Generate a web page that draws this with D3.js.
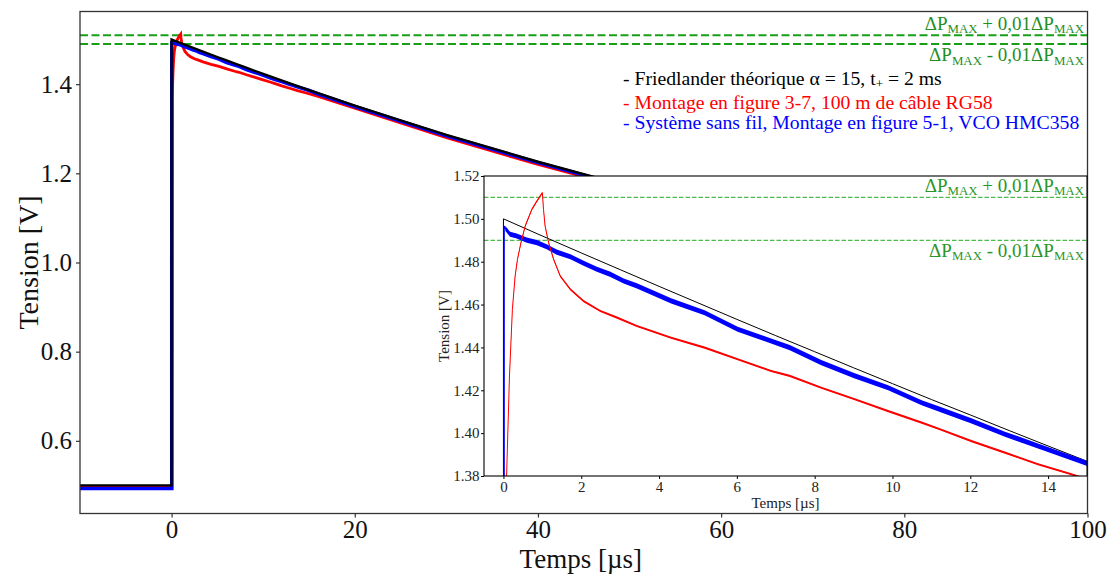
<!DOCTYPE html>
<html><head><meta charset="utf-8">
<script src="https://cdn.jsdelivr.net/npm/d3@7"></script>
<style>
body{margin:0;background:#fff}
svg text{font-family:"Liberation Serif","DejaVu Serif",serif}
</style>
</head><body>
<svg id="c" width="1112" height="575"></svg>
<script>
// ---------- data (time in µs, tension in V) ----------
const friedT = [-10, 0, 0, 1, 2, 3, 4, 5, 6, 7, 8, 9, 10, 11, 12, 13, 14, 15, 16, 20, 25, 30, 40, 50, 60, 70, 80, 90, 100];
const friedV = [0.5, 0.5, 1.5, 1.4920, 1.4841, 1.4763, 1.4685, 1.4608, 1.4531, 1.4455, 1.4380, 1.4305, 1.4231, 1.4157, 1.4085, 1.4012, 1.3940, 1.3869, 1.3798, 1.3521, 1.3187, 1.2865, 1.2260, 1.1701, 1.1185, 1.0709, 1.0269, 0.9862, 0.9488];

const redT = [-10, 0.03, 0.08, 0.155, 0.23, 0.30, 0.36, 0.45, 0.56, 0.73, 0.86, 1.00, 1.03, 1.07, 1.16, 1.29, 1.46, 1.72, 2.06, 2.49, 2.92, 3.43, 4.31, 5.17, 6.02, 6.88, 7.36, 8.17, 9.03, 9.89, 10.75, 11.22, 12.03, 12.89, 13.74, 14.6, 16, 20, 30, 40, 50, 60, 70, 80, 90, 100];
const redV = [0.497, 0.497, 1.380, 1.4267, 1.4578, 1.4733, 1.4811, 1.4889, 1.4967, 1.5044, 1.5083, 1.5122, 1.5044, 1.4967, 1.4889, 1.4811, 1.4733, 1.4671, 1.4616, 1.4570, 1.4539, 1.4500, 1.4445, 1.4399, 1.4345, 1.4290, 1.4267, 1.4212, 1.4158, 1.4103, 1.4049, 1.4018, 1.3963, 1.3909, 1.3855, 1.3808, 1.3725, 1.346, 1.280, 1.220, 1.165, 1.114, 1.066, 1.022, 0.982, 0.945];

const blueT = [-10, 0.02, 0.02, 0.05, 0.17, 0.34, 0.6, 0.86, 1.11, 1.37, 1.72, 2.06, 2.40, 2.75, 3.09, 3.43, 4.31, 5.17, 6.02, 6.88, 7.36, 8.17, 9.03, 9.89, 10.75, 11.22, 12.03, 12.89, 13.74, 14.95, 16, 20, 30, 40, 50, 60, 70, 80, 90, 100];
const blueV = [0.493, 0.493, 1.4967, 1.4955, 1.4928, 1.4920, 1.4901, 1.4889, 1.4870, 1.4845, 1.4823, 1.4793, 1.4765, 1.4741, 1.4710, 1.4687, 1.4617, 1.4562, 1.4485, 1.4430, 1.4399, 1.4329, 1.4267, 1.4212, 1.4142, 1.4111, 1.4057, 1.3995, 1.3940, 1.3862, 1.378, 1.350, 1.284, 1.224, 1.168, 1.117, 1.069, 1.025, 0.985, 0.947];

// noise half-width
const blueSpread = 0.0012;
const redSpread = 0.0005;

const tolerance = [1.51, 1.49];

const mainXTicks = [0, 20, 40, 60, 80, 100];
const mainYTicks = [0.6, 0.8, 1.0, 1.2, 1.4];
const insetXTicks = [0, 2, 4, 6, 8, 10, 12, 14];
const insetYTicks = [1.38, 1.40, 1.42, 1.44, 1.46, 1.48, 1.50, 1.52];

const legendLines = [
  {parts: ["- Friedlander théorique α = 15, t", "+", " = 2 ms"], color: "#000"},
  {parts: ["- Montage en figure 3-7, 100 m de câble RG58"], color: "#ff0000"},
  {parts: ["- Système sans fil, Montage en figure 5-1, VCO HMC358"], color: "#0000ff"}
];

const zip = (t, v) => t.map((d, i) => ({t: d, v: v[i]}));
const fried = zip(friedT, friedV), red = zip(redT, redV), blue = zip(blueT, blueV);

// ---------- main chart ----------
const svg = d3.select("#c");
const M = {l: 80, r: 1087.5, t: 11.5, b: 513.5};
const x = d3.scaleLinear().domain([-10, 100]).range([M.l, M.r]);
const y = d3.scaleLinear().domain([0.437, 1.563]).range([M.b, M.t]);

const defs = svg.append("defs");
defs.append("clipPath").attr("id", "mainClip").append("rect")
  .attr("x", M.l).attr("y", M.t).attr("width", M.r - M.l).attr("height", M.b - M.t);

const mainLine = d3.line().x(d => x(d.t)).y(d => y(d.v));
const gm = svg.append("g").attr("clip-path", "url(#mainClip)");
tolerance.forEach(v => {
  gm.append("line").attr("x1", M.l).attr("x2", M.r).attr("y1", y(v)).attr("y2", y(v))
    .attr("stroke", "#17a017").attr("stroke-width", 2).attr("stroke-dasharray", "8,3.5");
});
gm.append("path").datum(red).attr("d", mainLine).attr("fill", "none").attr("stroke", "#ff0000").attr("stroke-width", 2.8);
gm.append("path").datum(blue).attr("d", mainLine).attr("fill", "none").attr("stroke", "#0000ff").attr("stroke-width", 3.6);
gm.append("path").datum(fried).attr("d", mainLine).attr("fill", "none").attr("stroke", "#000").attr("stroke-width", 2.4);

// axes
const ax = svg.append("g").attr("transform", `translate(0,${M.b})`)
  .call(d3.axisBottom(x).tickValues(mainXTicks).tickFormat(d3.format("d")).tickSize(4).tickPadding(3));
const ay = svg.append("g").attr("transform", `translate(${M.l},0)`)
  .call(d3.axisLeft(y).tickValues(mainYTicks).tickFormat(d3.format(".1f")).tickSize(4).tickPadding(4));
[ax, ay].forEach(g => {
  g.select(".domain").remove();
  g.selectAll("line").attr("stroke", "#333").attr("stroke-width", 1.2);
  g.selectAll("text").attr("font-size", 25).attr("fill", "#111").attr("font-family", "Liberation Serif, DejaVu Serif, serif");
});
svg.append("rect").attr("x", M.l).attr("y", M.t).attr("width", M.r - M.l).attr("height", M.b - M.t)
  .attr("fill", "none").attr("stroke", "#333").attr("stroke-width", 1.3);

svg.append("text").attr("x", (M.l + M.r) / 2 - 3).attr("y", 568).attr("text-anchor", "middle")
  .attr("font-size", 27).attr("fill", "#111").text("Temps [µs]");
svg.append("text").attr("transform", `translate(38,${(M.t + M.b) / 2}) rotate(-90)`).attr("text-anchor", "middle")
  .attr("font-size", 28).attr("fill", "#111").text("Tension [V]");

function pmaxLabel(g, xe, yb, sign, size, color) {
  const t = g.append("text").attr("x", xe).attr("y", yb).attr("text-anchor", "end")
    .attr("font-size", size).attr("fill", color);
  const sub = size * 0.68, shift = size * 0.19;
  t.append("tspan").text("ΔP");
  t.append("tspan").attr("font-size", sub).attr("dy", shift).text("MAX");
  t.append("tspan").attr("dy", -shift).text(` ${sign} 0,01ΔP`);
  t.append("tspan").attr("font-size", sub).attr("dy", shift).text("MAX");
}
pmaxLabel(svg, 1084, 29.5, "+", 19, "#1f8f1f");
pmaxLabel(svg, 1084, 61, "-", 19, "#1f8f1f");

// legend text
const legY = [85, 109, 129];
legendLines.forEach((L, i) => {
  const t = svg.append("text").attr("x", 623).attr("y", legY[i]).attr("font-size", 19.7).attr("fill", L.color);
  if (L.parts.length === 1) t.text(L.parts[0]);
  else {
    t.append("tspan").text(L.parts[0]);
    t.append("tspan").attr("font-size", 13).attr("dy", 3).text(L.parts[1]);
    t.append("tspan").attr("dy", -3).text(L.parts[2]);
  }
});

// ---------- inset ----------
const I = {l: 484, r: 1087, t: 176, b: 476};
const xi = d3.scaleLinear().domain([-0.5, 15]).range([I.l, I.r]);
const yi = d3.scaleLinear().domain([1.38, 1.52]).range([I.b, I.t]);
svg.append("rect").attr("x", I.l).attr("y", I.t).attr("width", I.r - I.l).attr("height", I.b - I.t).attr("fill", "#fff");
defs.append("clipPath").attr("id", "insClip").append("rect")
  .attr("x", I.l).attr("y", I.t).attr("width", I.r - I.l).attr("height", I.b - I.t);
const gi = svg.append("g").attr("clip-path", "url(#insClip)");
tolerance.forEach(v => {
  gi.append("line").attr("x1", I.l).attr("x2", I.r).attr("y1", yi(v)).attr("y2", yi(v))
    .attr("stroke", "#4cbc4c").attr("stroke-width", 1.3).attr("stroke-dasharray", "4.5,2");
});
const insLine = d3.line().x(d => xi(d.t)).y(d => yi(d.v));
const band = s => d3.area().x(d => xi(d.t)).y0(d => yi(d.v - s)).y1(d => yi(d.v + s));
gi.append("path").datum(fried).attr("d", insLine).attr("fill", "none").attr("stroke", "#000").attr("stroke-width", 1);
gi.append("path").datum(blue.filter(d => d.t > 0.03)).attr("d", band(blueSpread)).attr("fill", "#0000ff");
gi.append("path").datum(blue).attr("d", insLine).attr("fill", "none").attr("stroke", "#0000ff").attr("stroke-width", 1.2);
gi.append("path").datum(red.filter(d => d.t > 0.1)).attr("d", band(redSpread)).attr("fill", "#ff0000");
gi.append("path").datum(red).attr("d", insLine).attr("fill", "none").attr("stroke", "#ff0000").attr("stroke-width", 1);

const ixa = svg.append("g").attr("transform", `translate(0,${I.b})`)
  .call(d3.axisBottom(xi).tickValues(insetXTicks).tickFormat(d3.format("d")).tickSize(3).tickPadding(2));
const iya = svg.append("g").attr("transform", `translate(${I.l},0)`)
  .call(d3.axisLeft(yi).tickValues(insetYTicks).tickFormat(d3.format(".2f")).tickSize(3).tickPadding(1.5));
[ixa, iya].forEach(g => {
  g.select(".domain").remove();
  g.selectAll("line").attr("stroke", "#000");
  g.selectAll("text").attr("font-size", 15).attr("fill", "#222").attr("font-family", "Liberation Serif, DejaVu Serif, serif");
});
svg.append("rect").attr("x", I.l).attr("y", I.t).attr("width", I.r - I.l).attr("height", I.b - I.t)
  .attr("fill", "none").attr("stroke", "#000").attr("stroke-width", 1.1);
svg.append("text").attr("x", (I.l + I.r) / 2).attr("y", 508).attr("text-anchor", "middle")
  .attr("font-size", 15).attr("fill", "#222").text("Temps [µs]");
svg.append("text").attr("transform", `translate(449,${(I.t + I.b) / 2}) rotate(-90)`).attr("text-anchor", "middle")
  .attr("font-size", 15).attr("fill", "#222").text("Tension [V]");
pmaxLabel(svg, 1084, 191.5, "+", 19, "#2a962a");
pmaxLabel(svg, 1084, 256.5, "-", 19, "#2a962a");
</script>
</body></html>
